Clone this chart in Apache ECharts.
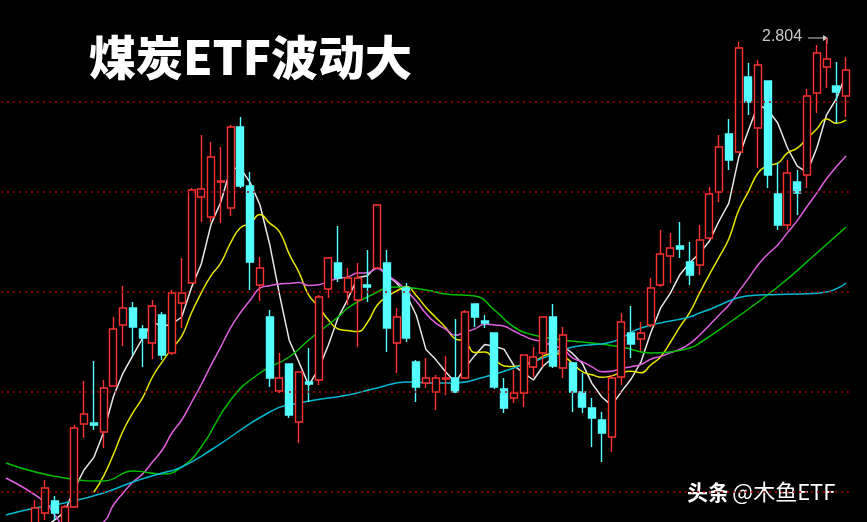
<!DOCTYPE html>
<html>
<head>
<meta charset="utf-8">
<script src="https://cdn.jsdelivr.net/npm/echarts@6/dist/echarts.min.js"></script>
<style>
html,body{margin:0;padding:0;background:#000;}
#chart{width:867px;height:522px;}
</style>
</head>
<body>
<div id="chart"></div>
<script>
// 日K数据 [开, 收, 低, 高]
var candles = [
  [2.272,2.292,2.267,2.297],[2.287,2.297,2.277,2.302],[2.294,2.297,2.282,2.307],
  [2.307,2.334,2.302,2.342],[2.329,2.354,2.322,2.362],[2.341,2.329,2.322,2.346],
  [2.307,2.335,2.302,2.337],[2.335,2.414,2.334,2.417],[2.418,2.428,2.404,2.461],
  [2.419,2.417,2.412,2.481],[2.410,2.454,2.394,2.462],[2.456,2.513,2.456,2.525],
  [2.517,2.534,2.496,2.556],[2.534,2.515,2.487,2.540],[2.513,2.504,2.475,2.517],
  [2.499,2.536,2.483,2.542],[2.527,2.487,2.482,2.530],[2.489,2.549,2.487,2.552],
  [2.539,2.549,2.514,2.584],[2.559,2.652,2.559,2.654],[2.645,2.653,2.620,2.707],
  [2.625,2.685,2.620,2.700],[2.660,2.661,2.619,2.695],[2.634,2.715,2.626,2.717],
  [2.715,2.656,2.654,2.725],[2.656,2.580,2.552,2.670],[2.557,2.574,2.541,2.585],
  [2.525,2.464,2.455,2.532],[2.451,2.464,2.449,2.489],[2.478,2.427,2.424,2.478],
  [2.420,2.470,2.399,2.470],[2.460,2.458,2.440,2.494],[2.462,2.545,2.457,2.547],
  [2.553,2.584,2.544,2.585],[2.579,2.564,2.560,2.616],[2.550,2.564,2.537,2.574],
  [2.542,2.564,2.495,2.579],[2.557,2.555,2.540,2.592],[2.574,2.637,2.574,2.638],
  [2.579,2.514,2.490,2.592],[2.499,2.525,2.469,2.534],[2.554,2.504,2.500,2.559],
  [2.480,2.455,2.440,2.482],[2.459,2.464,2.454,2.484],[2.450,2.464,2.432,2.467],
  [2.463,2.464,2.447,2.486],[2.464,2.450,2.449,2.523],[2.464,2.530,2.463,2.532],
  [2.538,2.525,2.515,2.538],[2.521,2.519,2.514,2.527],[2.509,2.455,2.453,2.509],
  [2.453,2.434,2.429,2.464],[2.444,2.449,2.439,2.472],[2.449,2.487,2.435,2.487],
  [2.475,2.485,2.465,2.495],[2.489,2.525,2.475,2.525],[2.525,2.476,2.474,2.538],
  [2.474,2.507,2.464,2.515],[2.479,2.450,2.430,2.480],[2.450,2.435,2.429,2.469],
  [2.434,2.424,2.395,2.444],[2.422,2.409,2.380,2.430],[2.405,2.464,2.390,2.467],
  [2.465,2.520,2.457,2.529],[2.509,2.498,2.484,2.536],[2.503,2.509,2.491,2.520],
  [2.517,2.554,2.515,2.564],[2.557,2.588,2.555,2.612],[2.586,2.594,2.559,2.609],
  [2.596,2.593,2.584,2.620],[2.580,2.567,2.557,2.600],[2.577,2.602,2.567,2.617],
  [2.604,2.648,2.602,2.655],[2.650,2.695,2.640,2.707],[2.708,2.682,2.672,2.723],
  [2.690,2.794,2.689,2.800],[2.765,2.740,2.727,2.779],[2.714,2.777,2.674,2.782],
  [2.761,2.667,2.654,2.761],[2.648,2.617,2.612,2.679],[2.617,2.669,2.612,2.682],
  [2.660,2.649,2.627,2.672],[2.667,2.746,2.654,2.753],[2.749,2.789,2.729,2.797],
  [2.775,2.783,2.754,2.804],[2.756,2.750,2.719,2.780],[2.746,2.772,2.725,2.785]
];

// 长周期均线（图上读取）[序号, 值]
var ma20Early = [[0,2.364],[4,2.340],[5,2.327],[7,2.305],[10,2.320],[11,2.337],[12,2.349],
  [13,2.360],[14,2.368],[15,2.380],[16,2.392],[17,2.409],[18,2.422]];
var maGreen = [[0,2.379],[6,2.364],[10,2.361],[13,2.371],[16,2.368],[18,2.375],[20,2.395],
  [23,2.442],[26,2.469],[29,2.485],[31,2.502],[34,2.525],[35,2.534],[37,2.545],[40,2.555],
  [43,2.552],[45,2.548],[48,2.546],[50,2.532],[52,2.515],[54,2.507],[57,2.502],[59,2.500],
  [63,2.495],[66,2.489],[68,2.490],[70,2.494],[71,2.499],[74,2.519],[79,2.555],[83,2.589],[86,2.615]];
var maCyan = [[0,2.327],[3,2.334],[6,2.339],[10,2.349],[13,2.360],[16,2.369],[18,2.375],
  [21,2.392],[27,2.430],[30,2.439],[35,2.447],[38,2.454],[41,2.460],[44,2.459],[46,2.459],
  [49,2.465],[52,2.474],[55,2.484],[58,2.495],[62,2.500],[65,2.514],[70,2.525],[71,2.529],
  [77,2.547],[81,2.548],[84,2.550],[86,2.559]];

var gridPrices = [2.7436, 2.6462, 2.5488, 2.4514, 2.354];
var highLabel = '2.804';
var title = '煤炭ETF波动大';

var days = candles.map(function (d, i) { return i; });

function calcMA(n) {
  var out = [];
  for (var i = 0; i < candles.length; i++) {
    if (i < n - 1) { out.push(null); continue; }
    var s = 0;
    for (var j = 0; j < n; j++) s += candles[i - j][1];
    out.push([i, +(s / n).toFixed(4)]);
  }
  return out;
}
var ma20 = ma20Early.concat(calcMA(20).filter(function (d) { return d; }));

function maLine(name, data, color, smooth) {
  return {
    name: name, type: 'line', data: data, showSymbol: false, smooth: smooth,
    connectNulls: true, lineStyle: { color: color, width: 1.5 }, z: 3, silent: true
  };
}

var myChart = echarts.init(document.getElementById('chart'));
var option = {
  backgroundColor: '#000',
  animation: false,
  grid: { left: 1, right: 16, top: 0, bottom: 0 },
  xAxis: {
    type: 'category', data: days, boundaryGap: true,
    axisLine: { show: false }, axisTick: { show: false }, axisLabel: { show: false }
  },
  yAxis: {
    type: 'value', min: 2.320, max: 2.842, scale: true,
    axisLine: { show: false }, axisTick: { show: false }, axisLabel: { show: false },
    splitLine: { show: false }
  },
  graphic: [
    { type: 'text', left: 89, top: 34, style: { text: title, fill: '#fff',
      font: '900 47px "Noto Sans CJK SC"' } },
    { type: 'text', left: 687, top: 481, style: {
      text: '{a|头条} {b|@木鱼ETF}',
      rich: {
        a: { fill: '#fff', fontSize: 21, fontWeight: 'bold', fontFamily: 'Noto Sans CJK SC' },
        b: { fill: '#fff', fontSize: 22, fontFamily: 'Noto Sans CJK SC' }
      } } },
    { type: 'text', left: 762, top: 29, style: { text: highLabel, fill: '#c8c8c8',
      font: '16px "Liberation Sans"' } },
    { type: 'line', shape: { x1: 808, y1: 38, x2: 824, y2: 38 },
      style: { stroke: '#c8c8c8', lineWidth: 1 } },
    { type: 'polygon', shape: { points: [[823, 35], [828, 38], [823, 41]] },
      style: { fill: '#c8c8c8' } },
    { type: 'line', shape: { x1: 827, y1: 38, x2: 827, y2: 44 },
      style: { stroke: '#c8c8c8', lineWidth: 1 } }
  ],
  series: [
    {
      type: 'candlestick', data: candles, barWidth: 7.5, z: 4,
      itemStyle: { color: '#000', color0: '#54ffff', borderColor: '#ff3232',
        borderColor0: '#54ffff', borderWidth: 1.4 },
      markLine: {
        silent: true, symbol: 'none', label: { show: false },
        lineStyle: { color: '#a00000', type: [2, 4], width: 1.5 },
        data: gridPrices.map(function (p) { return { yAxis: p }; })
      }
    },
    maLine('MA5', calcMA(5).filter(function (d) { return d; }), '#e8e8e8', false),
    maLine('MA10', calcMA(10).filter(function (d) { return d; }), '#e6e600', true),
    maLine('MA20', ma20, '#e060e0', true),
    maLine('MA60', maGreen, '#00c000', true),
    maLine('MA120', maCyan, '#00b8d0', true)
  ]
};
myChart.setOption(option);
</script>
</body>
</html>
